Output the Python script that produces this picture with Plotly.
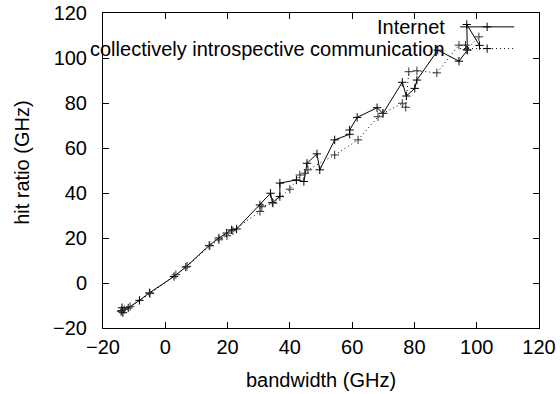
import plotly.graph_objects as go

# Internet (solid line)
inet_x = [-14.0, -13.6, -13.9, -11.9, -8.3, -5.1, 2.8, 6.6, 14.1, 17.2, 19.7, 21.3, 22.9,
          30.4, 33.8, 34.4, 36.8, 36.8, 42.1, 44.5, 45.5, 48.7, 49.6, 54.4, 59.2, 59.2,
          61.6, 68.0, 69.9, 76.1, 77.4, 80.1, 80.8, 87.5, 94.3, 97.0, 96.8, 100.9]
inet_y = [-12.3, -13.2, -11.0, -11.1, -7.7, -4.4, 2.9, 7.1, 16.7, 20.0, 22.2, 23.6, 24.0,
          34.7, 39.9, 35.8, 38.4, 44.4, 45.8, 45.1, 53.2, 57.4, 50.3, 63.6, 66.1, 68.0,
          73.6, 77.9, 75.4, 89.2, 83.1, 86.5, 90.2, 103.5, 98.6, 103.5, 114.9, 105.6]

# collectively introspective communication (dotted line)
cic_x = [-14.2, -13.2, -11.3, -4.9, 3.4, 7.0, 14.3, 17.2, 19.8, 21.7, 30.4, 31.0, 34.6,
         40.0, 43.2, 44.8, 45.8, 54.4, 61.9, 68.3, 69.9, 76.1, 77.2, 78.2, 80.8, 87.2,
         94.3, 96.4, 96.8, 100.7]
cic_y = [-12.7, -11.8, -10.5, -4.7, 3.7, 7.4, 16.5, 19.2, 21.0, 23.2, 31.8, 33.9, 35.5,
         41.7, 48.0, 48.8, 50.3, 56.9, 63.6, 73.9, 75.4, 79.9, 78.1, 93.9, 94.3, 93.4,
         105.7, 105.7, 103.8, 109.4]

series_names = ["Internet", "collectively introspective communication"]
x_ticks = [-20, 0, 20, 40, 60, 80, 100, 120]
y_ticks = [-20, 0, 20, 40, 60, 80, 100, 120]

FONT = "Liberation Sans, Arial, Helvetica, sans-serif"
FS = 20
DOT = "1px,3px"

fig = go.Figure()
fig.add_trace(go.Scatter(
    x=inet_x, y=inet_y, mode="lines+markers", name=series_names[0],
    line=dict(color="black", width=1),
    marker=dict(symbol="cross-thin", size=6, line=dict(color="black", width=1)),
    showlegend=False))
fig.add_trace(go.Scatter(
    x=cic_x, y=cic_y, mode="lines+markers", name=series_names[1],
    line=dict(color="black", width=1, dash=DOT),
    marker=dict(symbol="cross-thin", size=6, line=dict(color="#333333", width=1)),
    showlegend=False))

# legend samples (gnuplot-style key: text right-aligned, sample to its right)
key_y = [0.956, 0.887]
key_dash = ["solid", DOT]
for i, name in enumerate(series_names):
    fig.add_trace(go.Scatter(
        x=[0.819, 0.881, 0.943], y=[key_y[i]] * 3, xaxis="x2", yaxis="y2",
        mode="lines", line=dict(color="black", width=1, dash=key_dash[i]),
        showlegend=False, hoverinfo="skip"))
    fig.add_trace(go.Scatter(
        x=[0.881], y=[key_y[i]], xaxis="x2", yaxis="y2", mode="markers",
        marker=dict(symbol="cross-thin", size=6, line=dict(color="black", width=1)),
        showlegend=False, hoverinfo="skip"))
    fig.add_annotation(x=0.790, y=key_y[i], xref="paper", yref="paper",
                       text=name, showarrow=False, xanchor="right", yanchor="middle",
                       font=dict(family=FONT, size=FS, color="black"))

axis_common = dict(
    showgrid=False, zeroline=False, showline=True, linecolor="black", linewidth=1,
    mirror="allticks", ticks="inside", ticklen=6, tickcolor="black", tickwidth=1,
    tickfont=dict(family=FONT, size=FS, color="black"), automargin=False,
)
fig.update_layout(
    width=560, height=394,
    margin=dict(l=103, r=21, t=13, b=66, autoexpand=False),
    paper_bgcolor="white", plot_bgcolor="white",
    xaxis=dict(range=[-20, 120], tickvals=x_ticks, ticklabelstandoff=1, **axis_common),
    yaxis=dict(range=[-20, 120], tickvals=y_ticks, ticklabelstandoff=11, **axis_common),
    xaxis2=dict(range=[0, 1], overlaying="x", visible=False),
    yaxis2=dict(range=[0, 1], overlaying="y", visible=False),
)
fig.add_annotation(x=0.5, y=-0.165, xref="paper", yref="paper", text="bandwidth (GHz)",
                   showarrow=False, xanchor="center", yanchor="middle",
                   font=dict(family=FONT, size=FS, color="black"))
fig.add_annotation(x=-0.186, y=0.524, xref="paper", yref="paper", text="hit ratio (GHz)",
                   showarrow=False, textangle=-90, xanchor="center", yanchor="middle",
                   font=dict(family=FONT, size=FS, color="black"))

fig.write_html("out.html")
